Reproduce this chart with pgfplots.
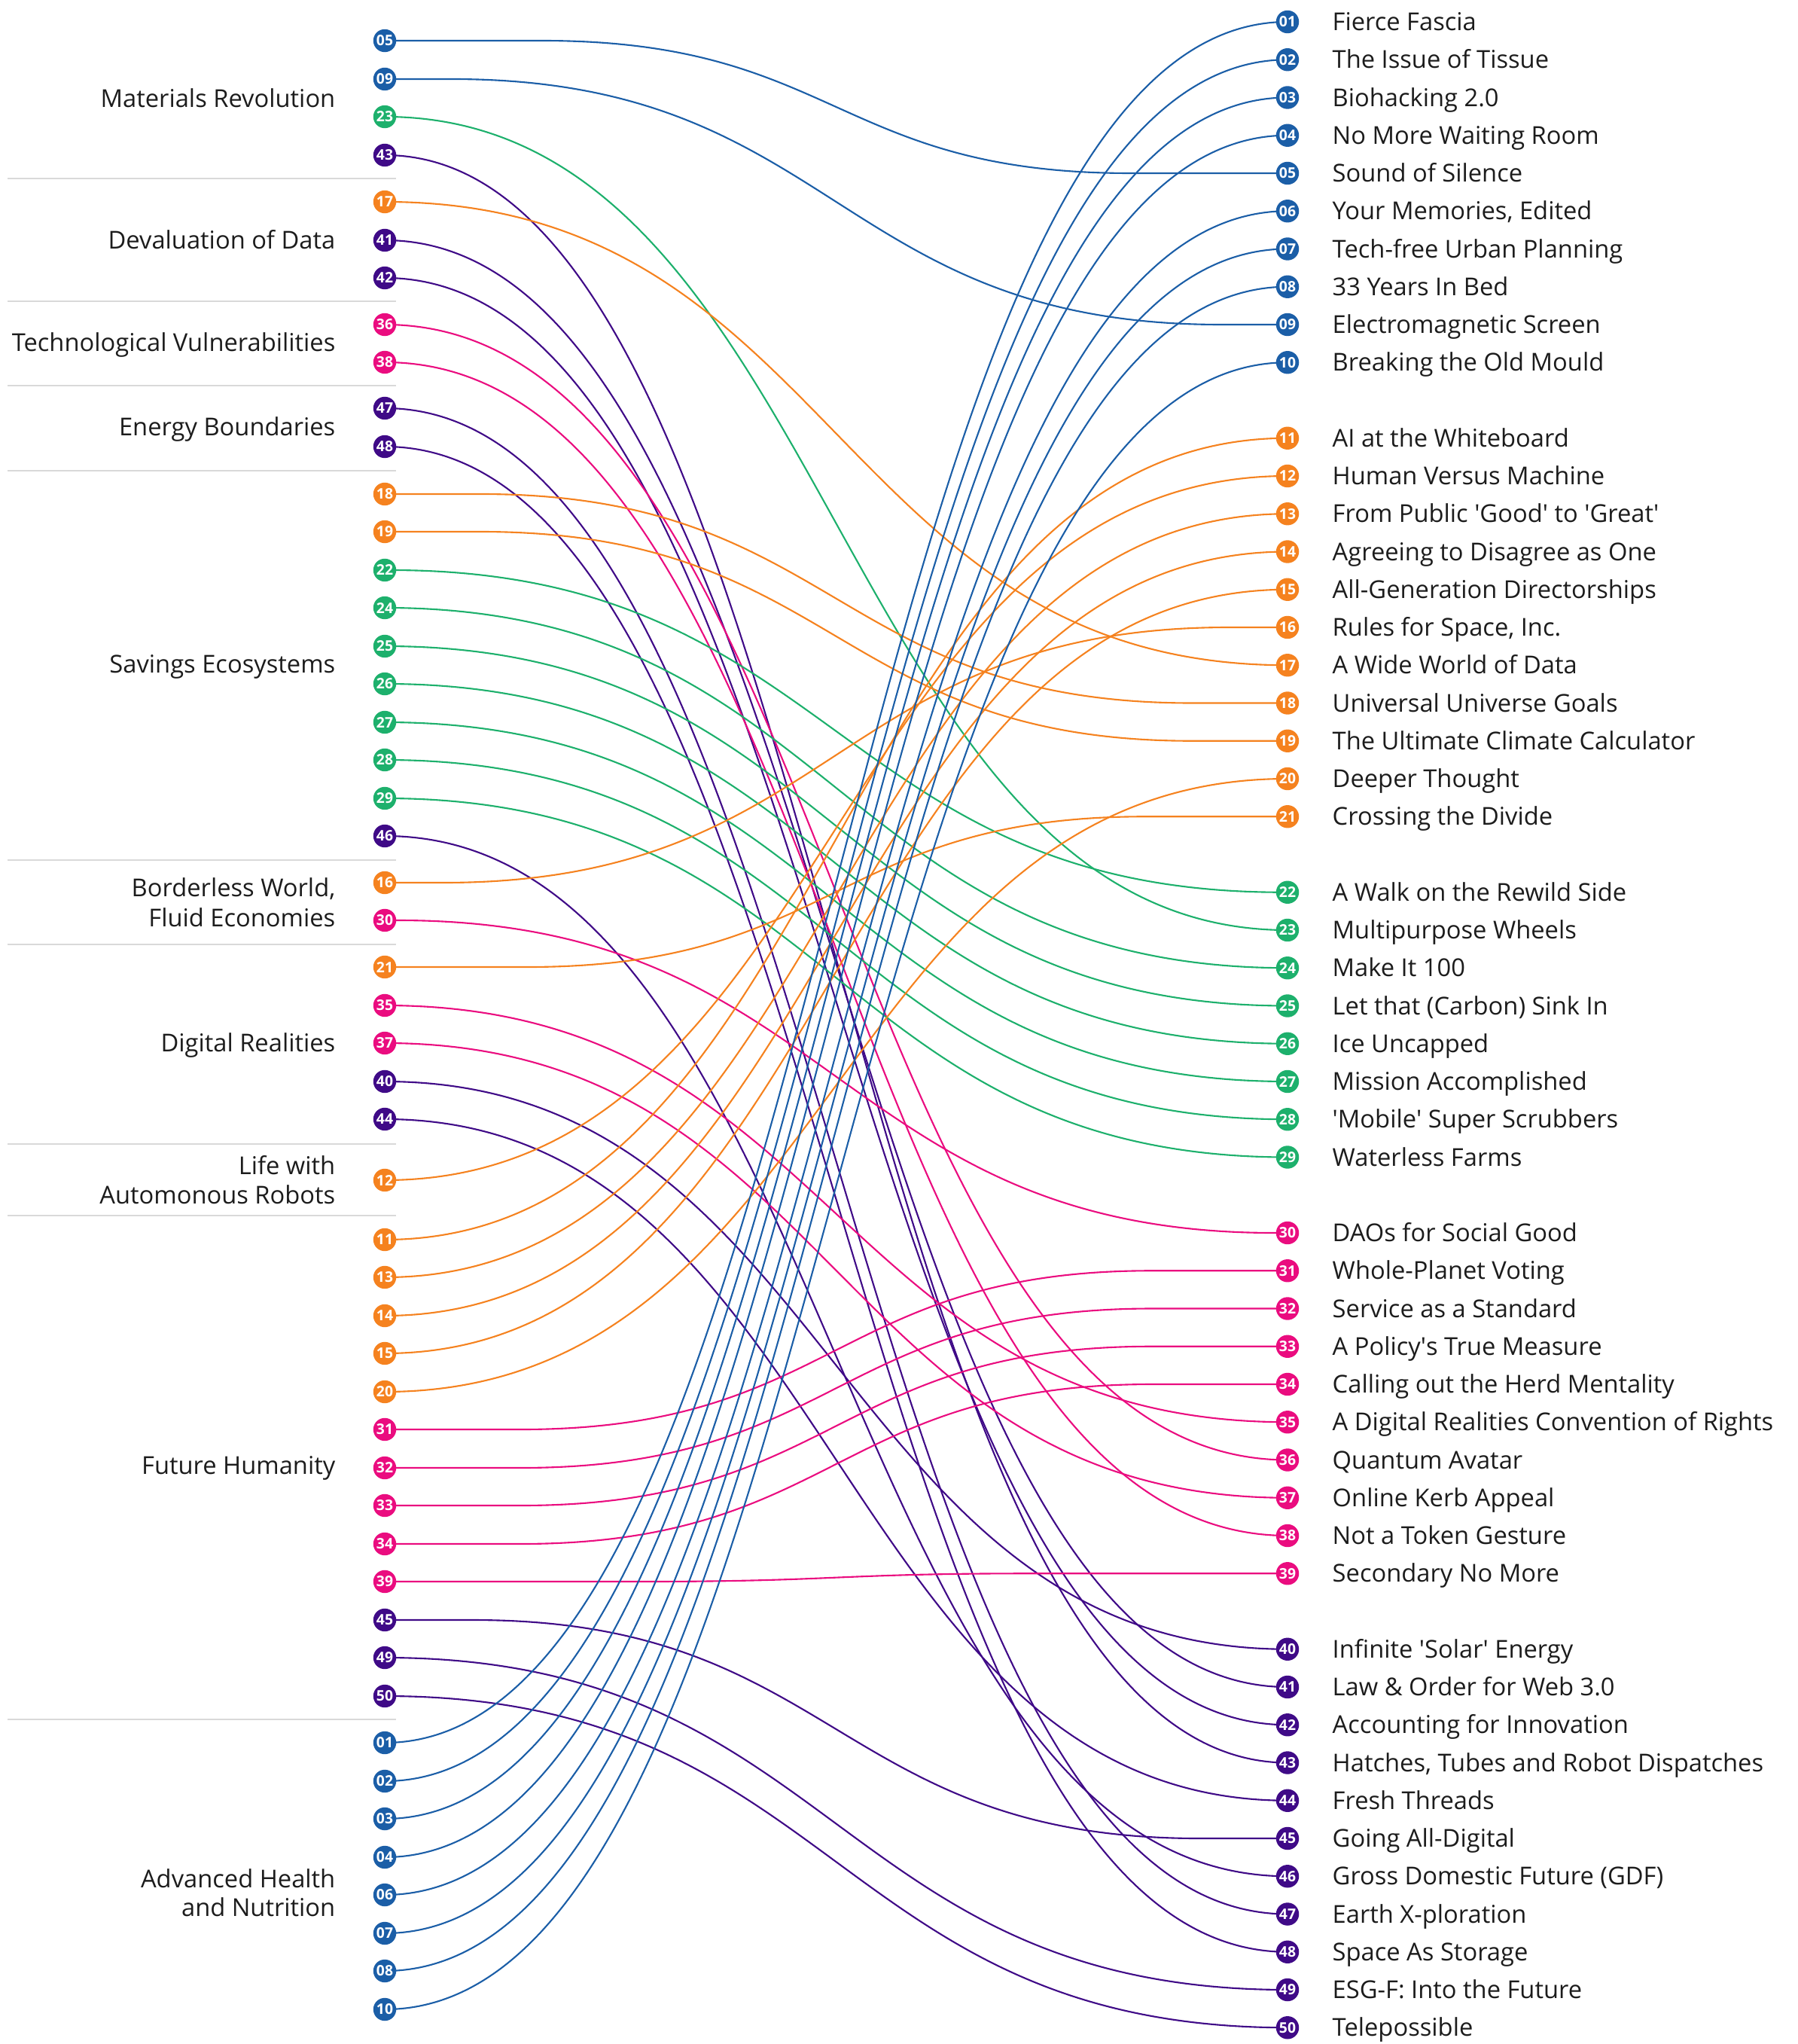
\documentclass[border=0pt]{standalone}
\usepackage{pgfplots}
\pgfplotsset{compat=1.18}
\usepackage{fontspec}
\setmainfont{Open Sans}
\definecolor{cB}{HTML}{1B5EA7}
\definecolor{cO}{HTML}{F5821F}
\definecolor{cG}{HTML}{1DB06C}
\definecolor{cK}{HTML}{EA0C7F}
\definecolor{cP}{HTML}{3F0A87}
\definecolor{sepgray}{HTML}{D9D9D9}
\definecolor{txt}{HTML}{1C1C1C}
\newcommand\q{\textquotesingle}
\pgfplotsset{
  circ/.style={only marks, mark=*, mark size=4.13pt, color=#1,
    point meta=explicit symbolic, nodes near coords,
    every node near coord/.style={anchor=center, inner sep=0pt, text=white,
      font=\bfseries\fontsize{5.5}{5.5}\selectfont}},
}
\begin{document}
\begin{tikzpicture}
\begin{axis}[width=23.87cm, height=27.14cm, scale only axis,
  xmin=0, xmax=2387, ymin=0, ymax=2714, y dir=reverse,
  hide axis, clip=false]

% group separators
\addplot[sepgray, line width=0.6pt, unbounded coords=jump] coordinates {
 (10,237) (526,237) (nan,nan)
 (10,400) (526,400) (nan,nan)
 (10,512) (526,512) (nan,nan)
 (10,625) (526,625) (nan,nan)
 (10,1142) (526,1142) (nan,nan)
 (10,1254) (526,1254) (nan,nan)
 (10,1519) (526,1519) (nan,nan)
 (10,1614) (526,1614) (nan,nan)
 (10,2283) (526,2283)
};

% links: id / left y / right y / colour
\foreach \lid/\yl/\yr/\lc in {
 05/54/230/cB, 09/105/431/cB, 23/155/1235/cG, 43/206/2340.5/cP,
 17/268/883.25/cO, 41/319/2240/cP, 42/369/2290.25/cP,
 36/431/1938.5/cK, 38/481/2039/cK,
 47/542/2541.5/cP, 48/593/2591.75/cP,
 18/656/933.5/cO, 19/706/983.75/cO, 22/757/1184.75/cG, 24/807/1285.25/cG,
 25/858/1335.5/cG, 26/908/1385.75/cG, 27/959/1436/cG, 28/1009/1486.25/cG,
 29/1060/1536.5/cG, 46/1110/2491.25/cP,
 16/1172/833/cO, 30/1222/1637/cK,
 21/1284/1084.25/cO, 35/1335/1888.25/cK, 37/1385/1988.75/cK, 40/1436/2189.75/cP, 44/1486/2390.75/cP,
 12/1567/632/cO,
 11/1646/581.75/cO, 13/1696/682.25/cO, 14/1747/732.5/cO, 15/1797/782.75/cO, 20/1848/1034/cO,
 31/1898/1687.25/cK, 32/1949/1737.5/cK, 33/1999/1787.75/cK, 34/2050/1838/cK, 39/2100/2089.25/cK,
 45/2151/2441/cP, 49/2201/2642/cP, 50/2252/2692.25/cP,
 01/2314/29/cB, 02/2365/79.25/cB, 03/2415/129.5/cB, 04/2466/179.75/cB,
 06/2516/280.25/cB, 07/2567/330.5/cB, 08/2617/380.75/cB, 10/2668/481.25/cB}{
  \pgfmathsetmacro\lkd{abs(\yr-\yl)}
  \pgfmathsetmacro\lks{min(1199,500+1.6*\lkd)}
  \pgfmathsetmacro\lkxa{1110.5-\lks/2}
  \pgfmathsetmacro\lkxb{1110.5+\lks/2}
  \edef\tmp{\noexpand\draw[line width=0.6pt,\lc] (axis cs:511,\yl) -- (axis cs:\lkxa,\yl)
    .. controls (axis cs:1110.5,\yl) and (axis cs:1110.5,\yr) .. (axis cs:\lkxb,\yr) -- (axis cs:1710,\yr);}\tmp
}

% circles (left column x=511, right column x=1710)
\addplot[circ=cB] table[meta=lab] {
x y lab
511 54 05
511 105 09
511 2314 01
511 2365 02
511 2415 03
511 2466 04
511 2516 06
511 2567 07
511 2617 08
511 2668 10
1710 29 01
1710 79.25 02
1710 129.5 03
1710 179.75 04
1710 230 05
1710 280.25 06
1710 330.5 07
1710 380.75 08
1710 431 09
1710 481.25 10
};
\addplot[circ=cO] table[meta=lab] {
x y lab
511 268 17
511 656 18
511 706 19
511 1172 16
511 1284 21
511 1567 12
511 1646 11
511 1696 13
511 1747 14
511 1797 15
511 1848 20
1710 581.75 11
1710 632 12
1710 682.25 13
1710 732.5 14
1710 782.75 15
1710 833 16
1710 883.25 17
1710 933.5 18
1710 983.75 19
1710 1034 20
1710 1084.25 21
};
\addplot[circ=cG] table[meta=lab] {
x y lab
511 155 23
511 757 22
511 807 24
511 858 25
511 908 26
511 959 27
511 1009 28
511 1060 29
1710 1184.75 22
1710 1235 23
1710 1285.25 24
1710 1335.5 25
1710 1385.75 26
1710 1436 27
1710 1486.25 28
1710 1536.5 29
};
\addplot[circ=cK] table[meta=lab] {
x y lab
511 431 36
511 481 38
511 1222 30
511 1335 35
511 1385 37
511 1898 31
511 1949 32
511 1999 33
511 2050 34
511 2100 39
1710 1637 30
1710 1687.25 31
1710 1737.5 32
1710 1787.75 33
1710 1838 34
1710 1888.25 35
1710 1938.5 36
1710 1988.75 37
1710 2039 38
1710 2089.25 39
};
\addplot[circ=cP] table[meta=lab] {
x y lab
511 206 43
511 319 41
511 369 42
511 542 47
511 593 48
511 1110 46
511 1436 40
511 1486 44
511 2151 45
511 2201 49
511 2252 50
1710 2189.75 40
1710 2240 41
1710 2290.25 42
1710 2340.5 43
1710 2390.75 44
1710 2441 45
1710 2491.25 46
1710 2541.5 47
1710 2591.75 48
1710 2642 49
1710 2692.25 50
};

% group labels (left)
\foreach \gy/\gt in {131/Materials Revolution, 319/Devaluation of Data,
  455/Technological Vulnerabilities, 567/Energy Boundaries, 882/Savings Ecosystems,
  1179/{Borderless World,}, 1219/Fluid Economies, 1385/Digital Realities,
  1548/Life with, 1587/Automonous Robots, 1946/Future Humanity,
  2495/Advanced Health, 2533/and Nutrition}{
  \edef\tmp{\noexpand\node[anchor=base east, inner sep=0pt, yshift=-3.3pt, text=txt,
    font=\noexpand\fontsize{9.3}{11}\noexpand\selectfont] at (axis cs:446,\gy) {\unexpanded\expandafter{\gt}};}\tmp
}

% item titles (right)
\foreach \ty/\tt in {29/Fierce Fascia, 79.25/The Issue of Tissue, 129.5/Biohacking 2.0,
  179.75/No More Waiting Room, 230/Sound of Silence, 280.25/{Your Memories, Edited},
  330.5/Tech-free Urban Planning, 380.75/33 Years In Bed, 431/Electromagnetic Screen,
  481.25/Breaking the Old Mould,
  581.75/AI at the Whiteboard, 632/Human Versus Machine, 682.25/From Public \q Good\q{} to \q Great\q,
  732.5/Agreeing to Disagree as One, 782.75/All-Generation Directorships, 833/{Rules for Space, Inc.},
  883.25/A Wide World of Data, 933.5/Universal Universe Goals, 983.75/The Ultimate Climate Calculator,
  1034/Deeper Thought, 1084.25/Crossing the Divide,
  1184.75/A Walk on the Rewild Side, 1235/Multipurpose Wheels, 1285.25/Make It 100,
  1335.5/Let that (Carbon) Sink In, 1385.75/Ice Uncapped, 1436/Mission Accomplished,
  1486.25/\q Mobile\q{} Super Scrubbers, 1536.5/Waterless Farms,
  1637/DAOs for Social Good, 1687.25/Whole-Planet Voting, 1737.5/Service as a Standard,
  1787.75/A Policy\q s True Measure, 1838/Calling out the Herd Mentality,
  1888.25/A Digital Realities Convention of Rights, 1938.5/Quantum Avatar,
  1988.75/Online Kerb Appeal, 2039/Not a Token Gesture, 2089.25/Secondary No More,
  2189.75/Infinite \q Solar\q{} Energy, 2240/Law \& Order for Web 3.0,
  2290.25/Accounting for Innovation, 2340.5/{Hatches, Tubes and Robot Dispatches},
  2390.75/Fresh Threads, 2441/Going All-Digital, 2491.25/Gross Domestic Future (GDF),
  2541.5/Earth X-ploration, 2591.75/Space As Storage, 2642/ESG-F: Into the Future,
  2692.25/Telepossible}{
  \edef\tmp{\noexpand\node[anchor=base west, inner sep=0pt, yshift=-3.3pt, text=txt,
    font=\noexpand\fontsize{9.3}{11}\noexpand\selectfont] at (axis cs:1769,\ty) {\unexpanded\expandafter{\tt}};}\tmp
}
\end{axis}
\pgfresetboundingbox
\useasboundingbox (0,0) rectangle (23.87cm,27.14cm);
\end{tikzpicture}
\end{document}
